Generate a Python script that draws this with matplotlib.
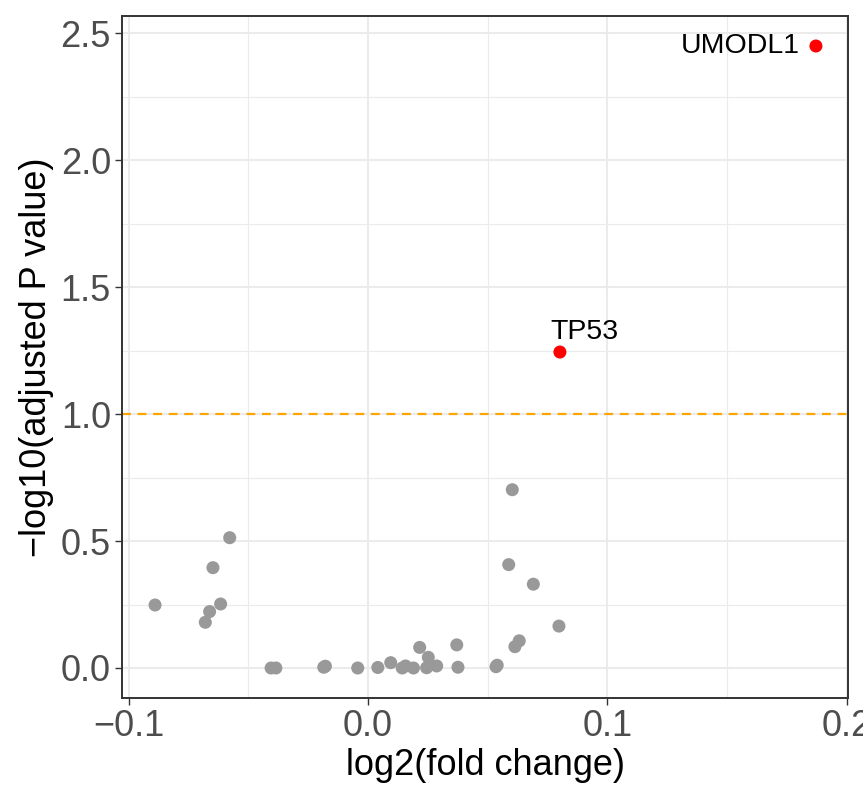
import matplotlib
matplotlib.use("Agg")
import matplotlib.pyplot as plt
from matplotlib.ticker import MultipleLocator

plt.rcParams['font.family'] = ['Liberation Sans', 'DejaVu Sans']

# grey (non-significant) genes
ns_logfc = [-0.089, -0.0578, -0.0648, -0.0616, -0.0662, -0.068,
            -0.0405, -0.0385, -0.0185, -0.0178, -0.0043, 0.0041, 0.0095,
            0.0157, 0.0143, 0.0190, 0.0216, 0.0252, 0.0245, 0.0287,
            0.0371, 0.0376, 0.0535, 0.0540, 0.0614, 0.0632, 0.0798,
            0.0603, 0.0588, 0.0691]
ns_padj = [0.248, 0.513, 0.395, 0.252, 0.222, 0.180,
           0.0, 0.0, 0.003, 0.007, 0.0, 0.002, 0.021,
           0.008, 0.0, 0.0, 0.081, 0.042, 0.001, 0.008,
           0.091, 0.003, 0.005, 0.011, 0.084, 0.107, 0.165,
           0.702, 0.407, 0.330]

# significant genes
sig_genes = ["UMODL1", "TP53"]
sig_logfc = [0.1872, 0.0802]
sig_padj = [2.449, 1.244]

threshold = 1.0

x_ticks = [-0.1, 0.0, 0.1, 0.2]
x_ticklabels = ["\u22120.1", "0.0", "0.1", "0.2"]
y_ticks = [0.0, 0.5, 1.0, 1.5, 2.0, 2.5]
y_ticklabels = ["0.0", "0.5", "1.0", "1.5", "2.0", "2.5"]

fig = plt.figure(figsize=(8.63, 7.90), dpi=100)
ax = fig.add_axes([0.1414, 0.1165, 0.8412, 0.8632])

ax.scatter(ns_logfc, ns_padj, s=88, color="#999999", edgecolors="none", zorder=3)
ax.scatter(sig_logfc, sig_padj, s=88, color="#FF0000", edgecolors="none", zorder=3)
ax.axhline(threshold, color="#FFA500", linestyle=(0, (4, 3)), linewidth=1.6, zorder=2)

ax.annotate(sig_genes[0], (sig_logfc[0], sig_padj[0]), xytext=(-12, 0),
            textcoords="offset points", ha="right", va="center", fontsize=20.5,
            color="black", zorder=4)
ax.annotate(sig_genes[1], (sig_logfc[1], sig_padj[1]), xytext=(17.5, 9.5),
            textcoords="offset points", ha="center", va="baseline", fontsize=20.5,
            color="black", zorder=4)

ax.set_xlim(-0.1028, 0.2006)
ax.set_ylim(-0.118, 2.567)
ax.xaxis.set_minor_locator(MultipleLocator(0.05))
ax.yaxis.set_minor_locator(MultipleLocator(0.25))
ax.set_xticks(x_ticks)
ax.set_xticklabels(x_ticklabels)
ax.set_yticks(y_ticks)
ax.set_yticklabels(y_ticklabels)

ax.grid(which="major", color="#EBEBEB", linewidth=1.5, zorder=0)
ax.grid(which="minor", color="#EBEBEB", linewidth=0.8, zorder=0)
ax.set_axisbelow(True)
ax.tick_params(which="minor", length=0)
ax.tick_params(which="major", length=5, width=1.0, color="#333333",
               labelsize=26, labelcolor="#4D4D4D", pad=3)
for sp in ax.spines.values():
    sp.set_color("#333333")
    sp.set_linewidth(1.4)

ax.set_xlabel("log2(fold change)", fontsize=26, color="black", labelpad=3)
ax.set_ylabel("\u2212log10(adjusted P value)", fontsize=26, color="black", labelpad=5)

fig.savefig("out.png", dpi=100)
